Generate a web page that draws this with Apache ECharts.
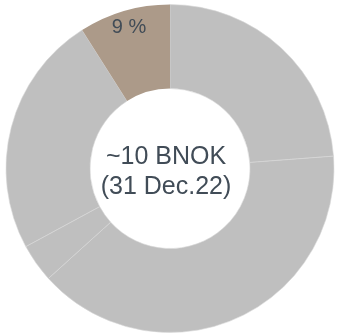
<!DOCTYPE html>
<html>
<head>
<meta charset="utf-8">
<script src="https://cdn.jsdelivr.net/npm/echarts@6/dist/echarts.min.js"></script>
<style>
  html, body { margin: 0; padding: 0; background: #ffffff; }
  #chart { width: 337px; height: 334px; }
</style>
</head>
<body>
<div id="chart"></div>
<script>
// Share of the ~10 BNOK total, clockwise from 12 o'clock
const segmentNames = ['A', 'B', 'C', 'D', 'E'];
const segmentValues = [23.8, 39.5, 3.8, 23.9, 9];
const segmentColors = ['#bfbfbf', '#bfbfbf', '#bfbfbf', '#bfbfbf', '#ac9a89'];
const labelledSegment = 'E';
const centerLines = ['~10 BNOK', '(31 Dec.22)'];

const textColor = '#414c57';

const ringData = segmentNames.map((name, i) => ({
  name: name,
  value: segmentValues[i],
  itemStyle: {
    color: segmentColors[i],
    borderColor: '#d8d8d8',
    borderWidth: name === labelledSegment ? 0 : 0.6
  }
}));

// Transparent companion ring that only carries the percentage label,
// so the label sits in the outer part of the highlighted slice.
const labelData = segmentNames.map((name, i) => ({
  name: name,
  value: segmentValues[i],
  itemStyle: { color: 'rgba(0,0,0,0)' },
  label: { show: name === labelledSegment }
}));

const chart = echarts.init(document.getElementById('chart'), null, { renderer: 'canvas' });
chart.setOption({
  animation: false,
  backgroundColor: '#ffffff',
  series: [
    {
      type: 'pie',
      center: [170, 168.5],
      radius: [80, 164],
      startAngle: 90,
      clockwise: true,
      silent: true,
      label: { show: false },
      labelLine: { show: false },
      data: ringData
    },
    {
      type: 'pie',
      center: [170, 168.5],
      radius: [124, 164],
      startAngle: 90,
      clockwise: true,
      silent: true,
      z: 3,
      label: {
        position: 'inside',
        formatter: p => Math.round(p.value) + ' %',
        color: textColor,
        fontFamily: 'Liberation Sans, Arial, sans-serif',
        fontSize: 20
      },
      labelLine: { show: false },
      data: labelData
    }
  ],
  graphic: [
    {
      type: 'text',
      x: 166,
      y: 157.5,
      style: {
        text: centerLines[0],
        fill: textColor,
        font: '25px "Liberation Sans", Arial, sans-serif',
        textAlign: 'center',
        textVerticalAlign: 'middle'
      }
    },
    {
      type: 'text',
      x: 166,
      y: 187,
      style: {
        text: centerLines[1],
        fill: textColor,
        font: '25px "Liberation Sans", Arial, sans-serif',
        textAlign: 'center',
        textVerticalAlign: 'middle'
      }
    }
  ]
});
</script>
</body>
</html>
